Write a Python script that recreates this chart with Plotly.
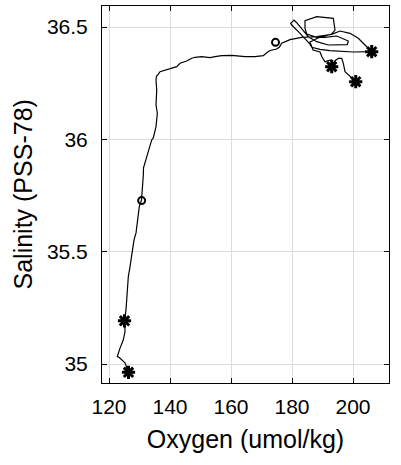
import plotly.graph_objects as go

# Profile path (oxygen umol/kg, salinity PSS-78)
oxygen = [126.39, 125.25, 123.44, 122.72, 123.61, 124.69, 125.25, 125.08, 125.57, 125.80,
          126.00, 126.33, 126.89, 127.44, 127.77, 128.20, 128.85, 129.28, 129.93, 130.66,
          131.05, 131.25, 131.31, 131.80, 132.36, 133.44, 134.00, 134.52, 135.41, 135.84,
          135.41, 135.64, 135.41, 135.57, 135.97, 136.72, 138.36, 140.56, 142.20, 143.28,
          145.48, 147.12, 148.20, 150.39, 153.11, 154.75, 156.95, 160.23, 162.39, 164.59,
          167.87, 170.59, 171.70, 172.79, 174.75, 175.84, 176.62, 179.34, 183.18, 188.10,
          193.02, 194.66, 195.74, 199.02, 201.74, 203.93, 206.13, 200.10, 192.46, 189.18,
          186.46, 185.67, 184.26, 182.07, 179.90, 179.57, 180.66, 181.54, 183.71, 185.34,
          188.10, 191.90, 198.13, 198.46, 194.66, 190.82, 188.10, 184.82, 184.26, 184.26,
          188.10, 193.54, 194.10, 193.02, 188.52, 185.90, 186.89, 189.18, 189.84, 190.82,
          191.90, 193.02, 193.44, 193.02, 194.10, 195.18, 196.30, 196.82, 197.38, 198.46,
          200.89]
salinity = [34.9636, 35.0058, 35.0281, 35.0339, 35.0712, 35.1081, 35.1451, 35.1927, 35.2416, 35.2861,
            35.3617, 35.3897, 35.4342, 35.4787, 35.5161, 35.5530, 35.5841, 35.6420, 35.7011, 35.7309,
            35.7901, 35.8421, 35.8733, 35.8942, 35.9235, 35.9680, 35.9978, 36.0067, 36.0570, 36.1166,
            36.1535, 36.2202, 36.2647, 36.2825, 36.2870, 36.3017, 36.3092, 36.3168, 36.3239, 36.3390,
            36.3492, 36.3613, 36.3657, 36.3684, 36.3639, 36.3684, 36.3728, 36.3746, 36.3715, 36.3684,
            36.3684, 36.3728, 36.3862, 36.3960, 36.4013, 36.4102, 36.4280, 36.4440, 36.4547, 36.4573,
            36.4680, 36.4783, 36.4827, 36.4725, 36.4502, 36.4204, 36.3906, 36.3893, 36.3951, 36.4013,
            36.4102, 36.4280, 36.4502, 36.4796, 36.5094, 36.5170, 36.5316, 36.5196, 36.4840, 36.4573,
            36.4351, 36.4204, 36.4218, 36.4382, 36.4605, 36.4547, 36.4547, 36.4694, 36.4947, 36.5285,
            36.5463, 36.5392, 36.4871, 36.4694, 36.4516, 36.4338, 36.3982, 36.3893, 36.3670, 36.3461,
            36.3506, 36.3537, 36.3403, 36.3239, 36.3506, 36.3613, 36.3613, 36.3390, 36.3017, 36.2870,
            36.2572]

# Star markers
star_oxygen = [126.39, 125.08, 206.13, 193.02, 200.89]
star_salinity = [34.9636, 35.1927, 36.3906, 36.3239, 36.2572]

# Circle markers
circ_oxygen = [130.70, 174.59]
circ_salinity = [35.728, 36.4324]

x_ticks = [120, 140, 160, 180, 200]
y_ticks = [35, 35.5, 36, 36.5]
y_tick_labels = ["35", "35.5", "36", "36.5"]

fig = go.Figure()
fig.add_trace(go.Scatter(x=oxygen, y=salinity, mode="lines",
                         line=dict(color="black", width=1.2), showlegend=False,
                         hoverinfo="skip"))
fig.add_trace(go.Scatter(x=star_oxygen, y=star_salinity, mode="markers",
                         marker=dict(symbol="asterisk-open", size=11, color="black",
                                     line=dict(color="black", width=3)),
                         showlegend=False))
fig.add_trace(go.Scatter(x=circ_oxygen, y=circ_salinity, mode="markers",
                         marker=dict(symbol="circle-open", size=7, color="black",
                                     line=dict(color="black", width=2)),
                         showlegend=False))

font_family = "Liberation Sans, Arial, Helvetica, sans-serif"
axis_common = dict(showline=True, linecolor="black", linewidth=1, mirror="ticks",
                   ticks="inside", ticklen=5, tickcolor="black", automargin=False,
                   showgrid=True, gridcolor="#dcdcdc", gridwidth=1, zeroline=False,
                   tickfont=dict(family=font_family, size=21, color="black"))

fig.update_layout(
    width=401, height=465,
    margin=dict(l=102, r=12, t=6, b=82),
    paper_bgcolor="white", plot_bgcolor="white",
    font=dict(family=font_family, color="black"),
    xaxis=dict(range=[117.7, 211.8], tickvals=x_ticks, ticklabelstandoff=5,
               title=dict(text="Oxygen (umol/kg)", font=dict(size=25, family=font_family), standoff=13),
               **axis_common),
    yaxis=dict(range=[34.916, 36.594], tickvals=y_ticks, ticktext=y_tick_labels, ticklabelstandoff=9,
               **axis_common),
    annotations=[dict(text="Salinity (PSS-78)", xref="paper", yref="paper",
                      x=-0.2753, y=0.5, textangle=-90, showarrow=False,
                      xanchor="center", yanchor="middle",
                      font=dict(size=25, family=font_family, color="black"))],
)

fig.write_html("out.html", config={"displayModeBar": False},
               post_script="document.body.style.margin='0';")
